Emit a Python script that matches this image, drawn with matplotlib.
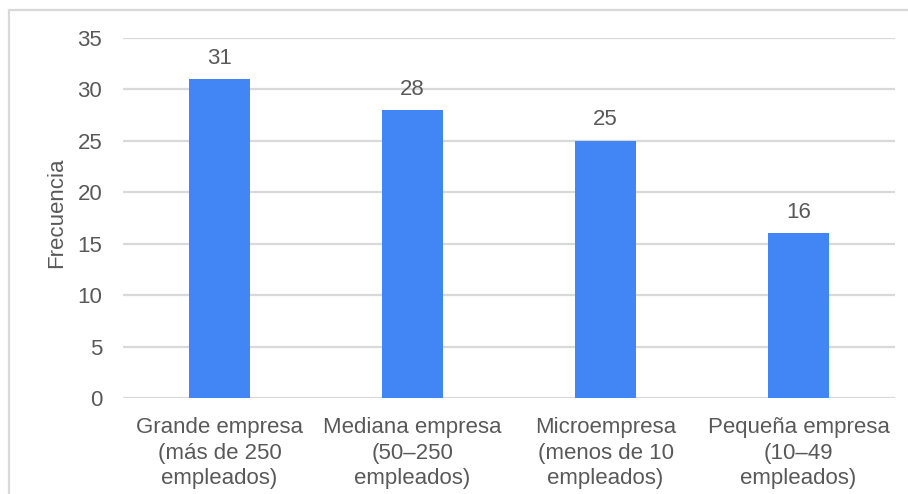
import matplotlib
matplotlib.use("Agg")
import matplotlib.pyplot as plt
from matplotlib.patches import Rectangle

categories = [
    "Grande empresa\n(más de 250\nempleados)",
    "Mediana empresa\n(50–250\nempleados)",
    "Microempresa\n(menos de 10\nempleados)",
    "Pequeña empresa\n(10–49\nempleados)",
]
frecuencia = [31, 28, 25, 16]
y_ticks = [0, 5, 10, 15, 20, 25, 30, 35]

plt.rcParams["font.family"] = ["Liberation Sans", "DejaVu Sans"]
text_color = "#595959"
grid_color = "#d9d9d9"
bar_color = "#4285f4"
fs = 16

W, H = 908, 494
fig = plt.figure(figsize=(W / 100, H / 100), dpi=100)

# outer chart frame (runs off the right and bottom edges)
fig.patches.append(Rectangle((8.5 / W, -0.2), 1, 1.2 - 10.5 / H, transform=fig.transFigure,
                             fill=False, edgecolor=grid_color, linewidth=1.6, zorder=0))

ax = fig.add_axes([123 / W, (H - 398) / H, (895 - 123) / W, (398 - 38) / H])
x = range(len(categories))
bars = ax.bar(x, frecuencia, width=0.316, color=bar_color, zorder=3)

ax.set_xlim(-0.5, len(categories) - 0.5)
ax.set_ylim(0, 35)
ax.set_yticks(y_ticks)
ax.set_xticks(list(x))
ax.set_xticklabels(categories, linespacing=1.27)
ax.tick_params(axis="both", length=0, labelsize=fs, colors=text_color)
ax.tick_params(axis="y", pad=15)
ax.tick_params(axis="x", pad=14)
ax.grid(axis="y", color=grid_color, linewidth=1.6, zorder=0)
for s in ax.spines.values():
    s.set_visible(False)

ax.set_ylabel("Frecuencia", fontsize=fs, color=text_color)
ax.yaxis.set_label_coords(-0.0725, 0.514)

for b, v in zip(bars, frecuencia):
    ax.annotate(str(v), (b.get_x() + b.get_width() / 2, v), xytext=(0, 7.5),
                textcoords="offset points", ha="center", va="bottom",
                fontsize=fs, color=text_color)

fig.savefig("out.png", dpi=100)
